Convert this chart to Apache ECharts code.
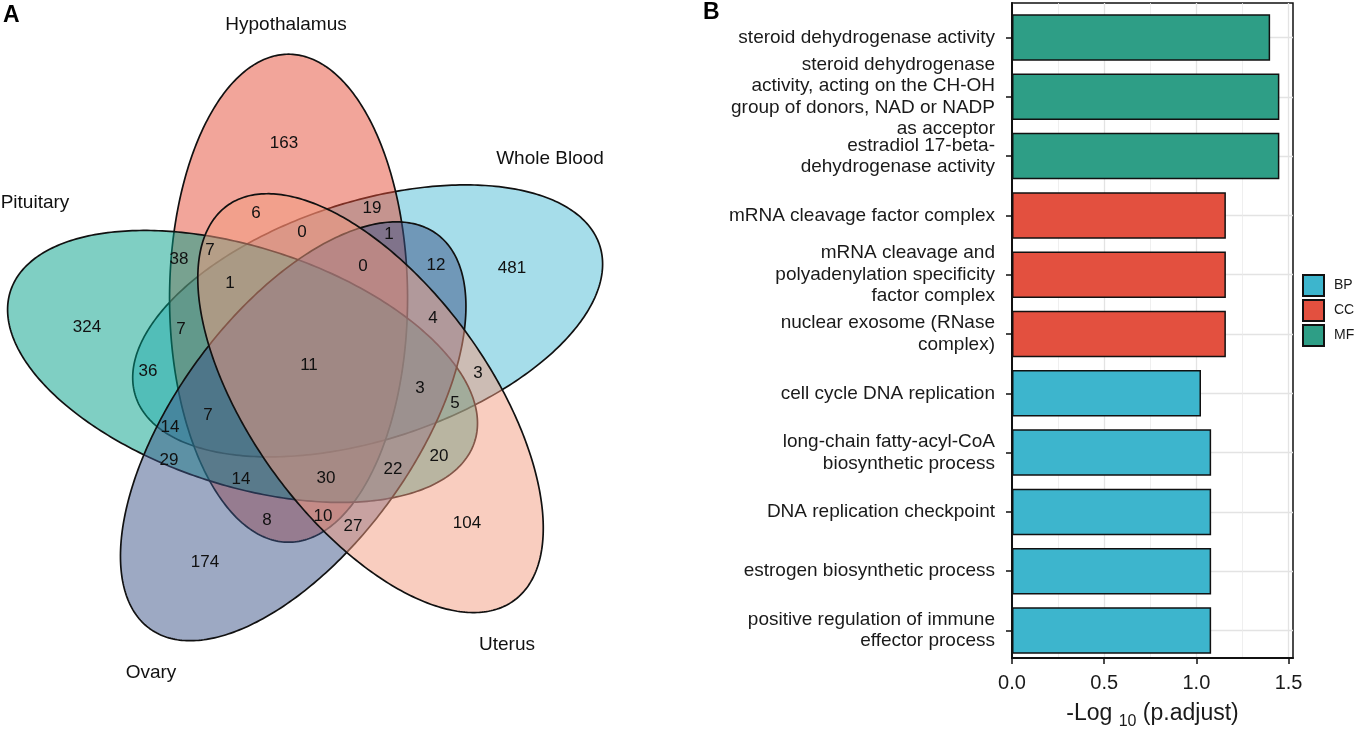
<!DOCTYPE html>
<html>
<head>
<meta charset="utf-8">
<script src="https://cdn.jsdelivr.net/npm/echarts@6/dist/echarts.min.js"></script>
<style>
html,body{margin:0;padding:0;background:#fff;}
#chart{width:1357px;height:735px;}
</style>
</head>
<body>
<div id="chart"></div>
<script>
// ---------------- Panel A: 5-set Venn ----------------
// sets in clockwise order starting at top
const setNames  = ['Hypothalamus', 'Whole Blood', 'Uterus', 'Ovary', 'Pituitary'];
const setColors = ['#E64B35', '#4DBBD5', '#F39B7F', '#3C5488', '#00A087'];
// region counts (31 regions)
const vennCounts = [163, 6, 19, 0, 1, 38, 7, 0, 12, 481, 1, 324, 7, 4, 36, 11,
                    3, 3, 5, 7, 14, 29, 20, 22, 14, 30, 8, 10, 27, 104, 174];

// ---------------- Panel B: GO enrichment ----------------
const goTerms = [
  'steroid dehydrogenase activity',
  'steroid dehydrogenase\nactivity, acting on the CH-OH\ngroup of donors, NAD or NADP\nas acceptor',
  'estradiol 17-beta-\ndehydrogenase activity',
  'mRNA cleavage factor complex',
  'mRNA cleavage and\npolyadenylation specificity\nfactor complex',
  'nuclear exosome (RNase\ncomplex)',
  'cell cycle DNA replication',
  'long-chain fatty-acyl-CoA\nbiosynthetic process',
  'DNA replication checkpoint',
  'estrogen biosynthetic process',
  'positive regulation of immune\neffector process'
];
const goOntology = ['MF', 'MF', 'MF', 'CC', 'CC', 'CC', 'BP', 'BP', 'BP', 'BP', 'BP'];
const goValues   = [1.40, 1.45, 1.45, 1.16, 1.16, 1.16, 1.025, 1.08, 1.08, 1.08, 1.08];
const ontologies = ['BP', 'CC', 'MF'];
const ontologyColors = {BP: '#3DB5CD', CC: '#E3503F', MF: '#2E9E86'};
const xTicks = [0, 0.5, 1.0, 1.5];

// ---------------- layout (positions / sizes) ----------------
const VL = {cx: 312.5, cy: 364, d: 70, theta0: -20, a: 119, b: 244};
const drawOrder = [1, 0, 4, 3, 2]; // Whole Blood, Hypothalamus, Pituitary, Ovary, Uterus
const countPos = [
  [284,143],[256,213],[372,208],[302,232],[389,234],[179,259],[210,250],[363,266],
  [436,265],[512,268],[230,283],[87,327],[181,329],[433,318],[148,371],[309,365],
  [478,373],[420,388],[455,403],[208,415],[170,427],[169,460],[439,456],[393,469],
  [241,479],[326,478],[267,520],[323,516],[353,526],[467,523],[205,562]
];
const setLabelPos = [[286,25],[550,159],[507,645],[151,673],[35,203]];

function vennCenter(k) {
  const th = (VL.theta0 + 72 * k) * Math.PI / 180;
  return [VL.cx + VL.d * Math.sin(th), VL.cy - VL.d * Math.cos(th)];
}
function hexA(hex, a) {
  const n = parseInt(hex.slice(1), 16);
  return 'rgba(' + (n >> 16 & 255) + ',' + (n >> 8 & 255) + ',' + (n & 255) + ',' + a + ')';
}

const FONT = '"Liberation Sans", Arial, Helvetica, sans-serif';

const chart = echarts.init(document.getElementById('chart'), null, {renderer: 'canvas'});

const barSeries = ontologies.map(function (o) {
  return {
    name: o,
    type: 'bar',
    xAxisIndex: 2,
    yAxisIndex: 2,
    barWidth: 46.5,
    barGap: '-100%',
    itemStyle: {color: ontologyColors[o], borderColor: '#111', borderWidth: 1.5},
    emphasis: {disabled: true},
    data: goValues.map(function (v, i) { return goOntology[i] === o ? v : null; })
  };
});

const option = {
  animation: false,
  textStyle: {fontFamily: FONT},
  title: [
    {text: 'A', left: 3, top: 4, padding: 0, textStyle: {fontSize: 23, fontWeight: 'bold', color: '#000', fontFamily: FONT}},
    {text: 'B', left: 703, top: 1, padding: 0, textStyle: {fontSize: 23, fontWeight: 'bold', color: '#000', fontFamily: FONT}}
  ],
  legend: {
    data: ontologies,
    orient: 'vertical',
    left: 1297,
    top: 269,
    itemWidth: 21,
    itemHeight: 21,
    itemGap: 2,
    icon: 'rect',
    selectedMode: false,
    textStyle: {fontSize: 14, color: '#1a1a1a', fontFamily: FONT, padding: [0, 0, 0, 5], overflow: 'none'}
  },
  grid: [
    {left: 0, top: 0, width: 620, height: 735, show: false},
    {left: 1012, top: 3, width: 281, height: 662, show: true, borderColor: '#111', borderWidth: 1.5, backgroundColor: 'transparent'},
    {left: 1012, top: 37.5 - 29.65, width: 281, height: 59.3 * 11},
    {left: 1012, top: 37.5, width: 281, height: 593}
  ],
  xAxis: [
    {gridIndex: 0, type: 'value', min: 0, max: 620, show: false},
    {
      gridIndex: 1, type: 'value', min: 0, max: 1.524, interval: 0.5,
      axisLine: {show: true, onZero: false, lineStyle: {color: '#111', width: 2}},
      axisTick: {show: true, length: 6, customValues: xTicks, lineStyle: {color: '#111', width: 1.5}},
      axisLabel: {fontSize: 20, color: '#1a1a1a', margin: 15, customValues: xTicks,
                  formatter: function (v) { return v.toFixed(1); }},
      splitLine: {show: true, lineStyle: {color: '#E3E3E3', width: 1.3}},
      minorTick: {show: false, splitNumber: 2},
      minorSplitLine: {show: true, lineStyle: {color: '#EBEBEB', width: 0.8}},
      name: '-Log {s|10} (p.adjust)',
      nameLocation: 'middle',
      nameGap: 37,
      nameTextStyle: {fontSize: 23, color: '#1a1a1a', lineHeight: 32, fontFamily: FONT,
                      rich: {s: {fontSize: 16, lineHeight: 15, verticalAlign: 'bottom', color: '#1a1a1a', fontFamily: FONT}}}
    },
    {gridIndex: 2, type: 'value', min: 0, max: 1.524, show: false},
    {gridIndex: 3, type: 'value', min: 0, max: 1.524, show: false}
  ],
  yAxis: [
    {gridIndex: 0, type: 'value', min: 0, max: 735, inverse: true, show: false},
    {gridIndex: 1, type: 'value', min: 0, max: 1,
     axisLine: {show: true, onZero: false, lineStyle: {color: '#111', width: 2}},
     axisTick: {show: false}, axisLabel: {show: false}, splitLine: {show: false}},
    {
      gridIndex: 2, type: 'category', data: goTerms, inverse: true, boundaryGap: true,
      axisLine: {show: false},
      axisTick: {show: true, alignWithLabel: true, interval: 0, length: 6, lineStyle: {color: '#111', width: 1.5}},
      axisLabel: {interval: 0, fontSize: 19, color: '#1a1a1a', lineHeight: 21.5, margin: 17, fontFamily: FONT,
                  padding: [4, 0, 0, 0]},
      splitLine: {show: false}
    },
    {
      gridIndex: 3, type: 'category', data: goTerms, inverse: true, boundaryGap: false,
      axisLine: {show: false}, axisTick: {show: false}, axisLabel: {show: false},
      splitLine: {show: true, interval: 0, lineStyle: {color: '#E3E3E3', width: 1.3}}
    }
  ],
  series: [
    {
      type: 'custom',
      xAxisIndex: 0, yAxisIndex: 0,
      silent: true,
      data: drawOrder.map(function (k) { return [k]; }),
      renderItem: function (params, api) {
        const k = api.value(0);
        const c = vennCenter(k);
        const phi = 72 * k * Math.PI / 180;
        const U = [Math.sin(phi), -Math.cos(phi)];
        const V = [Math.cos(phi), Math.sin(phi)];
        const pts = [];
        const N = 360;
        for (let i = 0; i < N; i++) {
          const t = i / N * 2 * Math.PI;
          const x = c[0] + VL.b * Math.cos(t) * U[0] + VL.a * Math.sin(t) * V[0];
          const y = c[1] + VL.b * Math.cos(t) * U[1] + VL.a * Math.sin(t) * V[1];
          pts.push(api.coord([x, y]));
        }
        return {
          type: 'polygon',
          shape: {points: pts},
          style: {fill: hexA(setColors[k], 0.5), stroke: '#111', lineWidth: 1.7}
        };
      }
    },
    {
      type: 'custom',
      xAxisIndex: 0, yAxisIndex: 0,
      silent: true,
      z: 5,
      data: vennCounts.map(function (v, i) { return [countPos[i][0], countPos[i][1], v]; }),
      renderItem: function (params, api) {
        const p = api.coord([api.value(0), api.value(1)]);
        return {
          type: 'text', x: p[0], y: p[1],
          style: {text: String(api.value(2)), fontSize: 17, fontFamily: FONT, fill: '#111',
                  align: 'center', verticalAlign: 'middle'}
        };
      }
    },
    {
      type: 'custom',
      xAxisIndex: 0, yAxisIndex: 0,
      silent: true,
      z: 5,
      data: setNames.map(function (n, i) { return [setLabelPos[i][0], setLabelPos[i][1], i]; }),
      renderItem: function (params, api) {
        const p = api.coord([api.value(0), api.value(1)]);
        return {
          type: 'text', x: p[0], y: p[1],
          style: {text: setNames[api.value(2)], fontSize: 19, fontFamily: FONT, fill: '#111',
                  align: 'center', verticalAlign: 'middle'}
        };
      }
    }
  ].concat(barSeries)
};

chart.setOption(option);
</script>
</body>
</html>
